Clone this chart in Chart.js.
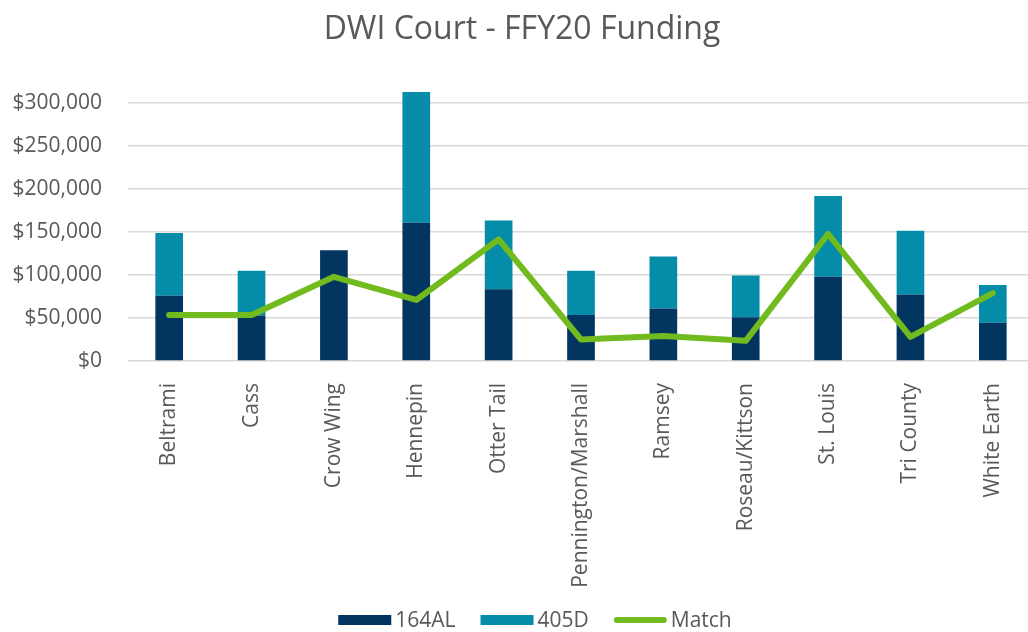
<!DOCTYPE html>
<html>
<head>
<meta charset="utf-8">
<script src="https://cdn.jsdelivr.net/npm/chart.js@4"></script>
<style>
  html, body { margin: 0; padding: 0; background: #fff; overflow: hidden; }
  #wrap { width: 1060px; height: 632px; }
</style>
</head>
<body>
<div id="wrap"><canvas id="fundingChart" width="1060" height="632"></canvas></div>
<script>
// ===== data =====
const courts = ['Beltrami', 'Cass', 'Crow Wing', 'Hennepin', 'Otter Tail', 'Pennington/Marshall',
  'Ramsey', 'Roseau/Kittson', 'St. Louis', 'Tri County', 'White Earth'];
const funds164AL = [76000, 53000, 129000, 161000, 83500, 53500, 61000, 51000, 98000, 77500, 44500];
const funds405D  = [73000, 52000, 0, 152000, 80000, 51500, 60500, 48500, 94000, 74000, 44000];
const matchVals  = [53500, 53500, 98000, 71000, 141500, 25000, 29000, 23500, 148000, 28000, 79000];
const yTicks = [0, 50000, 100000, 150000, 200000, 250000, 300000];

const GRAY = '#595959';
const FONT = "'Open Sans', sans-serif";

function money(v) {
  return '$' + Number(v).toLocaleString('en-US');
}

// ===== legend drawn along the bottom (box / line + text) =====
const bottomLegend = {
  id: 'bottomLegend',
  afterDraw(chart) {
    const ctx = chart.ctx;
    const y = 620, boxW = 53, gap = 4, spacing = 25, centerX = 535;
    ctx.save();
    ctx.font = "21px 'Open Sans', sans-serif";
    ctx.textBaseline = 'middle';
    const items = chart.data.datasets.map(ds => ({
      text: ds.label, color: ds.borderColor || ds.backgroundColor, line: ds.type === 'line',
      w: ctx.measureText(ds.label).width
    }));
    const total = items.reduce((s, it) => s + boxW + gap + it.w, 0) + spacing * (items.length - 1);
    let x = centerX - total / 2;
    items.forEach(it => {
      if (it.line) {
        ctx.strokeStyle = it.color;
        ctx.lineWidth = 6;
        ctx.lineCap = 'round';
        ctx.beginPath();
        ctx.moveTo(x + 3, y);
        ctx.lineTo(x + boxW - 3, y);
        ctx.stroke();
      } else {
        ctx.fillStyle = it.color;
        ctx.fillRect(x, y - 5, boxW, 10);
      }
      ctx.fillStyle = GRAY;
      ctx.fillText(it.text, x + boxW + gap, y + 1);
      x += boxW + gap + it.w + spacing;
    });
    ctx.restore();
  }
};

new Chart(document.getElementById('fundingChart'), {
  type: 'bar',
  data: {
    labels: courts,
    datasets: [
      { label: '164AL', data: funds164AL, backgroundColor: '#023660', stack: 'funding', order: 1,
        barPercentage: 0.336, categoryPercentage: 1 },
      { label: '405D', data: funds405D, backgroundColor: '#048CA9', stack: 'funding', order: 1,
        barPercentage: 0.336, categoryPercentage: 1 },
      { label: 'Match', type: 'line', data: matchVals, borderColor: '#72BB1F', backgroundColor: '#72BB1F',
        borderWidth: 6, pointRadius: 0, tension: 0, stack: 'match', order: 0,
        borderCapStyle: 'round', borderJoinStyle: 'round' }
    ]
  },
  options: {
    responsive: false,
    animation: false,
    layout: { padding: { left: 10, right: 26, top: 0, bottom: 37 } },
    plugins: {
      title: {
        display: true,
        text: 'DWI Court - FFY20 Funding',
        color: GRAY,
        font: { family: FONT, size: 32, weight: 'normal' },
        padding: { top: 11, bottom: 36.6 }
      },
      legend: { display: false },
      tooltip: { enabled: false }
    },
    scales: {
      x: {
        stacked: true,
        afterFit: axis => { axis.height = 234; },
        grid: { display: false },
        border: { display: false },
        ticks: {
          color: GRAY,
          font: { family: FONT, size: 21 },
          minRotation: 90,
          maxRotation: 90,
          autoSkip: false,
          padding: 14
        }
      },
      y: {
        stacked: true,
        min: 0,
        max: 320000,
        afterBuildTicks: axis => { axis.ticks = yTicks.map(v => ({ value: v })); },
        afterFit: axis => { axis.width = 118; },
        grid: { color: '#d9d9d9', lineWidth: 1.5, drawTicks: false },
        border: { display: false },
        ticks: {
          color: GRAY,
          font: { family: FONT, size: 21 },
          padding: 26,
          callback: v => money(v)
        }
      }
    }
  },
  plugins: [bottomLegend]
});
</script>
</body>
</html>
